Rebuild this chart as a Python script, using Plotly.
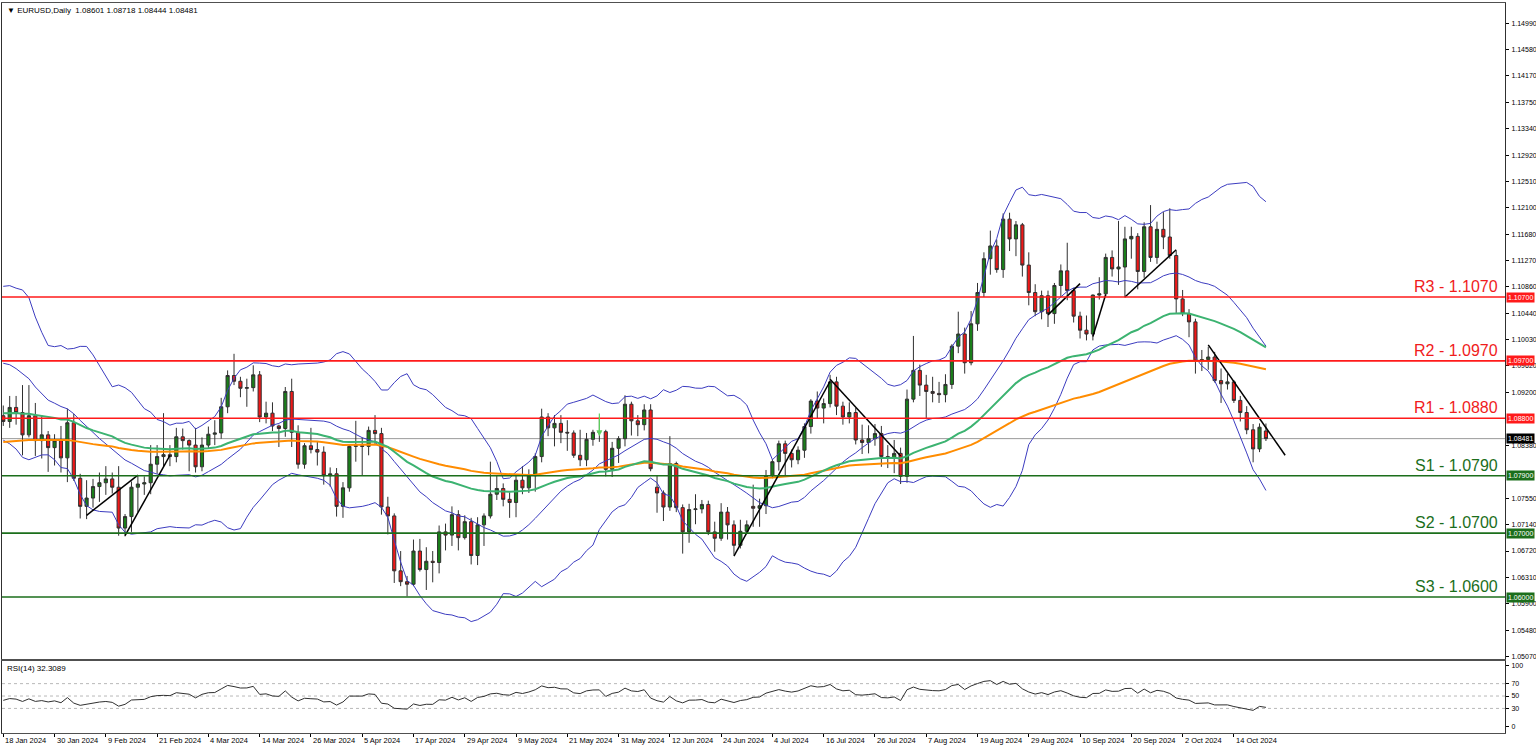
import numpy as np
import pandas as pd
import plotly.graph_objects as go

# ---------------- data ----------------
symbol_title = "EURUSD,Daily"
start_date = "2024-01-18"
end_date = "2024-10-21"

opens = [
    1.0884, 1.0875, 1.0897, 1.0889, 1.0854, 1.0884, 1.0845, 1.0854, 1.0834, 1.0845,
    1.0818, 1.0873, 1.0786, 1.0742, 1.0755, 1.0773, 1.0779, 1.0785, 1.0772, 1.0708, 1.0726, 1.0772, 1.0777, 1.0779, 1.0808, 1.0820, 1.0823, 1.0820, 1.0851, 1.0845, 1.0838,
    1.0804, 1.0838, 1.0855, 1.0857, 1.0898, 1.0947, 1.0938, 1.0927, 1.0928, 1.0948, 1.0882, 1.0888, 1.0868, 1.0864, 1.0922, 1.0858, 1.0808, 1.0837, 1.0831, 1.0827, 1.0790,
    1.0793, 1.0742, 1.0771, 1.0836, 1.0837, 1.0836, 1.0861, 1.0856, 1.0741, 1.0727, 1.0641, 1.0624, 1.0620, 1.0672, 1.0643, 1.0656, 1.0654, 1.0702, 1.0697, 1.0729, 1.0693, 1.0718,
    1.0665, 1.0713, 1.0727, 1.0761, 1.0770, 1.0753, 1.0748, 1.0783, 1.0771, 1.0790, 1.0820, 1.0882, 1.0865, 1.0872, 1.0858, 1.0857, 1.0822, 1.0815, 1.0847, 1.0858, 1.0859, 1.0800, 1.0833,
    1.0848, 1.0902, 1.0876, 1.0870, 1.0893, 1.0772, 1.0763, 1.0741, 1.0809, 1.0740, 1.0702, 1.0737, 1.0738, 1.0745, 1.0702, 1.0692, 1.0733, 1.0713, 1.0681, 1.0703,
    1.0742, 1.0739, 1.0743, 1.0790, 1.0812, 1.0840, 1.0825, 1.0815, 1.0830, 1.0867, 1.0907, 1.0896, 1.0903, 1.0937, 1.0899, 1.0882, 1.0889, 1.0846, 1.0842, 1.0848, 1.0856, 1.0820, 1.0817,
    1.0825, 1.0789, 1.0910, 1.0955, 1.0932, 1.0922, 1.0919, 1.0917, 1.0933, 1.0993, 1.1012, 1.0967, 1.1028, 1.1077, 1.1130, 1.1150, 1.1113, 1.1192, 1.1161, 1.1183, 1.1120, 1.1077,
    1.1047, 1.1072, 1.1044, 1.1088, 1.1111, 1.1080, 1.1040, 1.1018, 1.1012, 1.1073, 1.1075, 1.1132, 1.1114, 1.1117, 1.1161, 1.1165, 1.1110, 1.1180, 1.1132, 1.1176, 1.1164,
    1.1135, 1.1067, 1.1044, 1.1031, 1.0970, 1.0972, 1.0976, 1.0939, 1.0934, 1.0937, 1.0908, 1.0889, 1.0862, 1.0832, 1.08601,
]
highs = [
    1.0900, 1.0915, 1.0915, 1.0932, 1.0932, 1.0904, 1.0885, 1.0860, 1.0855, 1.0868,
    1.0895, 1.0887, 1.0793, 1.0783, 1.0785, 1.0795, 1.0805, 1.0795, 1.0805, 1.0730, 1.0781, 1.0790, 1.0789, 1.0838, 1.0838, 1.0888, 1.0838, 1.0865, 1.0864, 1.0847, 1.0865,
    1.0850, 1.0867, 1.0877, 1.0912, 1.0955, 1.0981, 1.0945, 1.0942, 1.0963, 1.0954, 1.0906, 1.0905, 1.0870, 1.0929, 1.0942, 1.0869, 1.0841, 1.0865, 1.0843, 1.0836, 1.0803,
    1.0802, 1.0780, 1.0838, 1.0876, 1.0850, 1.0867, 1.0885, 1.0865, 1.0757, 1.0731, 1.0672, 1.0633, 1.0690, 1.0691, 1.0678, 1.0672, 1.0712, 1.0715, 1.0742, 1.0736, 1.0728, 1.0724,
    1.0725, 1.0731, 1.0812, 1.0790, 1.0778, 1.0764, 1.0790, 1.0805, 1.0800, 1.0825, 1.0895, 1.0888, 1.0885, 1.0885, 1.0877, 1.0861, 1.0862, 1.0857, 1.0862, 1.0882, 1.0862, 1.0843, 1.0852,
    1.0916, 1.0906, 1.0885, 1.0902, 1.0902, 1.0791, 1.0767, 1.0852, 1.0812, 1.0745, 1.0746, 1.0761, 1.0752, 1.0751, 1.0718, 1.0747, 1.0741, 1.0720, 1.0721, 1.0720,
    1.0776, 1.0754, 1.0799, 1.0816, 1.0845, 1.0845, 1.0831, 1.0836, 1.0872, 1.0910, 1.0922, 1.0911, 1.0948, 1.0945, 1.0906, 1.0905, 1.0896, 1.0870, 1.0869, 1.0871, 1.0868, 1.0838, 1.0846,
    1.0834, 1.0925, 1.1009, 1.0964, 1.0948, 1.0945, 1.0937, 1.0949, 1.0996, 1.1047, 1.1022, 1.1048, 1.1092, 1.1140, 1.1174, 1.1160, 1.1201, 1.1202, 1.1189, 1.1186, 1.1140, 1.1090,
    1.1080, 1.1080, 1.1092, 1.1121, 1.1155, 1.1084, 1.1047, 1.1041, 1.1074, 1.1101, 1.1138, 1.1143, 1.1189, 1.1180, 1.1180, 1.1170, 1.1187, 1.1214, 1.1188, 1.1203, 1.1209,
    1.1143, 1.1081, 1.1051, 1.1036, 1.0987, 1.0992, 1.0984, 1.0958, 1.0950, 1.0940, 1.0915, 1.0899, 1.0871, 1.0872, 1.08718,
]
lows = [
    1.0868, 1.0865, 1.0870, 1.0822, 1.0850, 1.0821, 1.0817, 1.0796, 1.0806, 1.0795,
    1.0780, 1.0782, 1.0723, 1.0722, 1.0740, 1.0749, 1.0760, 1.0762, 1.0696, 1.0695, 1.0702, 1.0733, 1.0760, 1.0761, 1.0793, 1.0804, 1.0805, 1.0811, 1.0831, 1.0797, 1.0795,
    1.0797, 1.0832, 1.0838, 1.0848, 1.0888, 1.0932, 1.0913, 1.0898, 1.0922, 1.0874, 1.0872, 1.0860, 1.0835, 1.0851, 1.0835, 1.0801, 1.0801, 1.0825, 1.0806, 1.0776, 1.0773,
    1.0726, 1.0724, 1.0765, 1.0812, 1.0791, 1.0822, 1.0839, 1.0729, 1.0698, 1.0622, 1.0617, 1.0601, 1.0617, 1.0640, 1.0611, 1.0623, 1.0637, 1.0673, 1.0680, 1.0673, 1.0690, 1.0651,
    1.0650, 1.0680, 1.0723, 1.0752, 1.0742, 1.0724, 1.0725, 1.0761, 1.0763, 1.0765, 1.0811, 1.0852, 1.0836, 1.0841, 1.0829, 1.0818, 1.0805, 1.0805, 1.0837, 1.0843, 1.0789, 1.0788, 1.0810,
    1.0836, 1.0853, 1.0852, 1.0861, 1.0797, 1.0732, 1.0719, 1.0735, 1.0733, 1.0668, 1.0685, 1.0714, 1.0731, 1.0697, 1.0671, 1.0688, 1.0690, 1.0666, 1.0676, 1.0699,
    1.0710, 1.0710, 1.0730, 1.0786, 1.0798, 1.0791, 1.0803, 1.0808, 1.0818, 1.0856, 1.0880, 1.0872, 1.0897, 1.0885, 1.0870, 1.0872, 1.0839, 1.0824, 1.0825, 1.0837, 1.0804, 1.0802, 1.0794,
    1.0777, 1.0779, 1.0905, 1.0915, 1.0880, 1.0905, 1.0904, 1.0905, 1.0926, 1.0982, 1.0950, 1.0963, 1.1017, 1.1070, 1.1105, 1.1108, 1.1100, 1.1142, 1.1134, 1.1102, 1.1057, 1.1040,
    1.1035, 1.1023, 1.1028, 1.1070, 1.1065, 1.1030, 1.1005, 1.1002, 1.1002, 1.1066, 1.1071, 1.1102, 1.1089, 1.1069, 1.1130, 1.1082, 1.1100, 1.1125, 1.1122, 1.1145, 1.1130,
    1.1045, 1.1040, 1.1007, 1.0950, 1.0954, 1.0956, 1.0936, 1.0904, 1.0925, 1.0904, 1.0875, 1.0855, 1.0811, 1.0827, 1.08444,
]
closes = [
    1.0875, 1.0897, 1.0889, 1.0854, 1.0884, 1.0845, 1.0854, 1.0834, 1.0845, 1.0818,
    1.0873, 1.0786, 1.0742, 1.0755, 1.0773, 1.0779, 1.0785, 1.0772, 1.0708, 1.0726, 1.0772, 1.0777, 1.0779, 1.0808, 1.0820, 1.0823, 1.0820, 1.0851, 1.0845, 1.0838, 1.0804,
    1.0838, 1.0855, 1.0857, 1.0898, 1.0947, 1.0938, 1.0927, 1.0928, 1.0948, 1.0882, 1.0888, 1.0868, 1.0864, 1.0922, 1.0858, 1.0808, 1.0837, 1.0831, 1.0827, 1.0790, 1.0793,
    1.0742, 1.0771, 1.0836, 1.0837, 1.0836, 1.0861, 1.0856, 1.0741, 1.0727, 1.0641, 1.0624, 1.0620, 1.0672, 1.0643, 1.0656, 1.0654, 1.0702, 1.0697, 1.0729, 1.0693, 1.0718, 1.0665,
    1.0713, 1.0727, 1.0761, 1.0770, 1.0753, 1.0748, 1.0783, 1.0771, 1.0790, 1.0820, 1.0882, 1.0865, 1.0872, 1.0858, 1.0857, 1.0822, 1.0815, 1.0847, 1.0858, 1.0859, 1.0800, 1.0833, 1.0848,
    1.0902, 1.0876, 1.0870, 1.0893, 1.0801, 1.0763, 1.0741, 1.0809, 1.0740, 1.0702, 1.0737, 1.0738, 1.0745, 1.0702, 1.0692, 1.0733, 1.0713, 1.0681, 1.0703, 1.0713,
    1.0739, 1.0743, 1.0790, 1.0812, 1.0840, 1.0825, 1.0815, 1.0830, 1.0867, 1.0907, 1.0896, 1.0903, 1.0937, 1.0899, 1.0882, 1.0889, 1.0846, 1.0842, 1.0848, 1.0856, 1.0820, 1.0817, 1.0825,
    1.0789, 1.0910, 1.0955, 1.0932, 1.0922, 1.0919, 1.0917, 1.0933, 1.0993, 1.1012, 1.0967, 1.1028, 1.1077, 1.1130, 1.1150, 1.1113, 1.1192, 1.1161, 1.1183, 1.1120, 1.1077, 1.1047,
    1.1072, 1.1044, 1.1088, 1.1111, 1.1080, 1.1040, 1.1018, 1.1012, 1.1073, 1.1075, 1.1132, 1.1114, 1.1117, 1.1161, 1.1165, 1.1110, 1.1180, 1.1132, 1.1176, 1.1164, 1.1135,
    1.1067, 1.1044, 1.1031, 1.0970, 1.0972, 1.0976, 1.0939, 1.0934, 1.0937, 1.0908, 1.0889, 1.0862, 1.0832, 1.0866, 1.08481,
]

# closes before the first visible bar (indicator warm-up), 1 Dec 2023 - 17 Jan 2024
pre_closes = [
    1.0883, 1.0838, 1.0797, 1.0764, 1.0794, 1.0762, 1.0764, 1.0794, 1.0875, 1.0993, 1.0896,
    1.0924, 1.0981, 1.0943, 1.1011, 1.1012, 1.1042, 1.1105, 1.1061, 1.1039,
    1.0941, 1.0922, 1.0945, 1.0941, 1.0950, 1.0930, 1.0973, 1.0971, 1.0951, 1.0950, 1.0877, 1.0885,
]

# moving-average values read at the first visible bar
ma_green_start = 1.0888   # EMA 50
ma_orange_start = 1.0843  # EMA 100

res_levels = [1.1070, 1.0970, 1.0880]
res_labels = ["R3 - 1.1070", "R2 - 1.0970", "R1 - 1.0880"]
sup_levels = [1.0790, 1.0700, 1.0600]
sup_labels = ["S1 - 1.0790", "S2 - 1.0700", "S3 - 1.0600"]

# price-scale labels visible in the reference (those hidden behind level tags omitted)
price_ticks = [1.14990, 1.14580, 1.14170, 1.13750, 1.13340, 1.12920, 1.12510, 1.12100,
               1.11680, 1.11270, 1.10860, 1.10440, 1.10030, 1.09620, 1.09200,
               1.08380, 1.07550, 1.07140, 1.06720, 1.06310, 1.05900, 1.05480, 1.05070]
rsi_ticks = [0, 30, 50, 70, 100]
rsi_levels = [30, 50, 70]
rsi_label = "RSI(14) 32.3089"

date_labels = ["18 Jan 2024", "30 Jan 2024", "9 Feb 2024", "21 Feb 2024", "4 Mar 2024",
               "14 Mar 2024", "26 Mar 2024", "5 Apr 2024", "17 Apr 2024", "29 Apr 2024",
               "9 May 2024", "21 May 2024", "31 May 2024", "12 Jun 2024", "24 Jun 2024",
               "4 Jul 2024", "16 Jul 2024", "26 Jul 2024", "7 Aug 2024", "19 Aug 2024",
               "29 Aug 2024", "10 Sep 2024", "20 Sep 2024", "2 Oct 2024", "14 Oct 2024"]

trend_start_dates = ["2024-02-06", "2024-02-14", "2024-06-26", "2024-07-17", "2024-09-03", "2024-09-12", "2024-09-19", "2024-10-08"]
trend_start_prices = [1.0728, 1.0696, 1.0664, 1.0941, 1.1042, 1.1008, 1.1070, 1.0995]
trend_end_dates = ["2024-02-16", "2024-02-23", "2024-07-17", "2024-08-01", "2024-09-10", "2024-09-16", "2024-10-01", "2024-10-24"]
trend_end_prices = [1.0791, 1.0822, 1.0938, 1.0821, 1.1091, 1.1074, 1.1144, 1.0822]

# small green arrow object on the chart
arrow_date = "2024-05-28"
arrow_tail_price = 1.0890
arrow_tip_price = 1.0852

# ---------------- derived ----------------
dates = pd.bdate_range(start_date, end_date)
n = len(dates)
xi = np.arange(n)
calendar = pd.bdate_range(start_date, periods=n + 15)

all_closes = pd.Series(pre_closes + closes)
npre = len(pre_closes)
bb_mid = all_closes.rolling(20).mean().values[npre:]
bb_sd = all_closes.rolling(20).std(ddof=0).values[npre:]
bb_up = bb_mid + 2 * bb_sd
bb_lo = bb_mid - 2 * bb_sd


def ema(values, period, seed):
    a = 2.0 / (period + 1)
    out = [seed]
    for v in values[1:]:
        out.append(a * v + (1 - a) * out[-1])
    return np.array(out)


ema_green = ema(closes, 50, ma_green_start)
ema_orange = ema(closes, 100, ma_orange_start)

c = all_closes.values
d = np.diff(c)
g = np.where(d > 0, d, 0.0)
l = np.where(d < 0, -d, 0.0)
rsi_all = np.full(len(c), np.nan)
ag = g[:14].mean()
al = l[:14].mean()
rsi_all[14] = 100 - 100 / (1 + ag / al)
for i in range(14, len(d)):
    ag = (ag * 13 + g[i]) / 14
    al = (al * 13 + l[i]) / 14
    rsi_all[i + 1] = 100 - 100 / (1 + ag / al)
rsi = rsi_all[npre:]

# ---------------- figure ----------------
FONT = "Liberation Sans"
fig = go.Figure()

for band in (bb_up, bb_mid, bb_lo):
    fig.add_trace(go.Scatter(x=xi, y=band, mode="lines", line=dict(color="#3c3cc0", width=1), hoverinfo="skip"))
fig.add_trace(go.Scatter(x=xi, y=ema_orange, mode="lines", line=dict(color="#ff8c00", width=2), hoverinfo="skip"))
fig.add_trace(go.Scatter(x=xi, y=ema_green, mode="lines", line=dict(color="#3cb371", width=2), hoverinfo="skip"))

fig.add_trace(go.Candlestick(
    x=xi, open=opens, high=highs, low=lows, close=closes,
    increasing=dict(fillcolor="#1a7f1a", line=dict(color="#303030", width=1)),
    decreasing=dict(fillcolor="#f01818", line=dict(color="#303030", width=1)),
    whiskerwidth=0, hoverinfo="skip",
))

# trend lines
tx, ty = [], []
for sd_, sp, ed, ep in zip(trend_start_dates, trend_start_prices, trend_end_dates, trend_end_prices):
    tx += [calendar.get_loc(pd.Timestamp(sd_)), calendar.get_loc(pd.Timestamp(ed)), None]
    ty += [sp, ep, None]
fig.add_trace(go.Scatter(x=tx, y=ty, mode="lines", line=dict(color="black", width=1.5), hoverinfo="skip"))

# RSI
fig.add_trace(go.Scatter(x=xi, y=rsi, mode="lines", line=dict(color="#303030", width=1),
                         xaxis="x2", yaxis="y2", hoverinfo="skip"))

shapes = []
for lv in res_levels:
    shapes.append(dict(type="line", xref="x domain", yref="y", x0=0, x1=1, y0=lv, y1=lv,
                       line=dict(color="#ff1a1a", width=1.6), layer="above"))
for lv in sup_levels:
    shapes.append(dict(type="line", xref="x domain", yref="y", x0=0, x1=1, y0=lv, y1=lv,
                       line=dict(color="#1b6e1b", width=1.6), layer="above"))
shapes.append(dict(type="line", xref="x domain", yref="y", x0=0, x1=1, y0=closes[-1], y1=closes[-1],
                   line=dict(color="#9a9a9a", width=1), layer="below"))
for lv in rsi_levels:
    shapes.append(dict(type="line", xref="x2 domain", yref="y2", x0=0, x1=1, y0=lv, y1=lv,
                       line=dict(color="#b8b8b8", width=1, dash="dot"), layer="below"))

ann = []
for lv, txt in zip(res_levels, res_labels):
    ann.append(dict(xref="paper", yref="y", x=0.9968, y=lv, xanchor="right", yanchor="bottom", yshift=0,
                    text=txt, showarrow=False, font=dict(family=FONT, size=16, color="#f01c1c")))
for lv, txt in zip(sup_levels, sup_labels):
    ann.append(dict(xref="paper", yref="y", x=0.9968, y=lv, xanchor="right", yanchor="bottom", yshift=0,
                    text=txt, showarrow=False, font=dict(family=FONT, size=16, color="#1b6e1b")))

tags = [(lv, "#ff1a1a") for lv in res_levels] + [(lv, "#1b6e1b") for lv in sup_levels] + [(closes[-1], "#000000")]
for lv, col in tags:
    ann.append(dict(xref="paper", yref="y", x=1, y=lv, xanchor="left", yanchor="middle", xshift=1,
                    text=f"{lv:.5f}", showarrow=False, bgcolor=col, borderpad=1,
                    font=dict(family=FONT, size=7, color="white")))

for lab in date_labels:
    pos = dates.get_loc(pd.Timestamp(lab))
    ann.append(dict(xref="x2", yref="paper", x=pos, y=0, xanchor="left", yanchor="top", yshift=-1,
                    text=lab, showarrow=False, font=dict(family=FONT, size=7.5, color="black")))

arrow_x = dates.get_loc(pd.Timestamp(arrow_date))
ann.append(dict(xref="x", yref="y", x=arrow_x, y=arrow_tip_price, axref="x", ayref="y",
                ax=arrow_x, ay=arrow_tail_price, showarrow=True, arrowhead=2, arrowsize=1,
                arrowwidth=1.2, arrowcolor="#5fd35f", text=""))

header = f"\u25BC {symbol_title}  {opens[-1]:.5f} {highs[-1]:.5f} {lows[-1]:.5f} {closes[-1]:.5f}"
ann.append(dict(xref="paper", yref="paper", x=0, y=1, xanchor="left", yanchor="top", xshift=3, yshift=-1,
                text=header, showarrow=False, font=dict(family=FONT, size=8, color="black")))
ann.append(dict(xref="paper", yref="y2 domain", x=0, y=1, xanchor="left", yanchor="top", xshift=3, yshift=-1,
                text=rsi_label, showarrow=False, font=dict(family=FONT, size=8, color="black")))

tick_idx = [dates.get_loc(pd.Timestamp(lab)) for lab in date_labels]

fig.update_layout(
    width=1536, height=750,
    margin=dict(l=2, r=31, t=3, b=17, autoexpand=False),
    paper_bgcolor="white", plot_bgcolor="white",
    showlegend=False,
    font=dict(family=FONT, size=8, color="black"),
    shapes=shapes, annotations=ann,
    xaxis=dict(domain=[0, 1], anchor="y", range=[-0.2, 234.3], showticklabels=False, ticks="",
               showgrid=False, zeroline=False, showline=True, mirror=True, linecolor="#505050",
               linewidth=1, rangeslider=dict(visible=False), automargin=False),
    yaxis=dict(domain=[0.1014, 1], anchor="x", side="right", range=[1.05029, 1.15306],
               tickvals=price_ticks, ticktext=[f"{v:.5f}" for v in price_ticks],
               ticks="outside", ticklen=3, tickcolor="black", tickfont=dict(size=7),
               ticklabelstandoff=1, automargin=False,
               showgrid=False, zeroline=False, showline=True, mirror=True, linecolor="#303030", linewidth=1),
    xaxis2=dict(domain=[0, 1], anchor="y2", matches="x", tickvals=tick_idx, ticks="outside", ticklen=3,
                tickcolor="black", showticklabels=False, showgrid=False, zeroline=False, automargin=False,
                showline=True, mirror=True, linecolor="#505050", linewidth=1),
    yaxis2=dict(domain=[0, 0.0986], anchor="x2", side="right", range=[-9.7, 106.5],
                tickvals=rsi_ticks, ticks="outside", ticklen=3, tickcolor="black", tickfont=dict(size=7),
                ticklabelstandoff=1, automargin=False,
                showgrid=False, zeroline=False, showline=True, mirror=True, linecolor="#303030", linewidth=1),
)

fig.write_html("out.html", config={"displayModeBar": False, "staticPlot": True},
               post_script="document.body.style.margin='0px';document.body.style.overflow='hidden';")
